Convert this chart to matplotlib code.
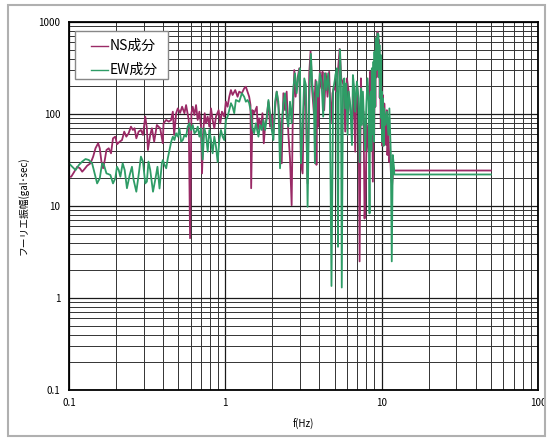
import matplotlib
matplotlib.use("Agg")
import matplotlib.pyplot as plt
from matplotlib.ticker import LogLocator, NullFormatter, FuncFormatter
from matplotlib.patches import Rectangle

plt.rcParams['font.family'] = ['Noto Sans CJK JP', 'DejaVu Sans']

# NS component (frequency Hz, Fourier amplitude gal*sec)
ns_freq = [0.100, 0.1034, 0.1076, 0.113, 0.1175, 0.1216, 0.1258, 0.1308, 0.1374, 0.1429,
           0.1479, 0.1538, 0.1575, 0.1614, 0.1655, 0.1696, 0.1738, 0.1797, 0.1859, 0.1914,
           0.198, 0.203, 0.2111, 0.2185, 0.2258, 0.2329, 0.2409, 0.2493, 0.2567, 0.2629,
           0.2698, 0.2791, 0.2888, 0.2975, 0.3078, 0.3152, 0.3201, 0.3311, 0.3393, 0.351,
           0.3651, 0.3834, 0.3985,
           0.4028, 0.4188, 0.4355, 0.4507, 0.4619, 0.4710, 0.4851, 0.4971, 0.5143, 0.5296,
           0.5480, 0.5615, 0.5839, 0.5954, 0.6072, 0.6192, 0.6345, 0.6502, 0.6663, 0.6829,
           0.6998, 0.7101, 0.7241, 0.7384, 0.7530, 0.7716, 0.7909, 0.8104, 0.8304, 0.8510,
           0.8720, 0.9067, 0.9292, 0.9523, 0.9854, 1.0098, 1.0347, 1.0605, 1.0867, 1.1136,
           1.1580, 1.1984, 1.2278, 1.2768, 1.3213, 1.3540, 1.3875, 1.4218, 1.4499, 1.4641,
           1.4932, 1.5302,
           1.591, 1.614, 1.646, 1.695, 1.729, 1.763, 1.798, 1.842, 1.888, 1.934,
           1.983, 2.032, 2.082, 2.133, 2.186, 2.240, 2.296, 2.353, 2.411, 2.470,
           2.531, 2.594, 2.658, 2.697, 2.764, 2.818, 2.902, 2.974, 3.048, 3.123,
           3.201, 3.280, 3.361, 3.444, 3.512, 3.599, 3.688, 3.780, 3.830, 3.873,
           3.930, 4.027, 4.127, 4.188, 4.292, 4.398, 4.506, 4.618, 4.732, 4.850, 4.970,
           5.11, 5.23, 5.39, 5.52, 5.71, 5.85, 6.00, 6.15, 6.30, 6.46,
           6.62, 6.78, 6.88, 6.95, 7.12, 7.23, 7.37, 7.48, 7.66, 7.78,
           7.89, 8.05, 8.25, 8.35, 8.45, 8.55, 8.66, 8.79, 8.90, 8.96,
           9.05, 9.12, 9.18, 9.28, 9.41, 9.52, 9.64, 9.72, 9.78, 9.88,
           9.95, 10.03, 10.12, 10.20, 10.27, 10.40, 10.53, 10.68, 10.80, 10.89,
           11.05, 11.20, 11.33, 11.50, 11.67, 11.89, 12.0, 50.0]
ns_amp = [20.8, 20.8, 23.2, 26.7, 25.7, 23.6, 25.2, 27.4, 29.1, 34.4,
          42.4, 48.1, 42.4, 30.4, 25.7, 31.6, 40.6, 42.4, 37.4, 54.4,
          56.7, 46.9, 50.0, 52.1, 64.3, 56.7, 61.7, 72.8, 67.0, 70.0,
          54.4, 64.3, 67.0, 59.2, 93.6, 70.0, 40.6, 59.2, 70.0, 50.0,
          75.9, 70.0, 48.1,
          79.2, 86.1, 82.6, 86.1, 106, 59.2, 102, 115, 103, 120,
          102, 125, 86.1, 4.46, 102, 120, 97.5, 125, 86.1, 106,
          72.8, 22.6, 67.0, 102, 79.2, 93.6, 72.8, 115, 86.1, 69.8,
          93.6, 110, 79.2, 106, 93.6, 136, 120, 154, 182, 161,
          182, 154, 175, 168, 190, 198, 175, 154, 125, 15.6,
          110, 102,
          120, 67.0, 89.8, 72.8, 102, 48.0, 72.8, 93.6, 136, 72.8,
          97.5, 61.7, 115, 175, 125, 79.2, 29.1, 168, 110, 175,
          61.7, 33.0, 10.2, 72.8, 300, 154, 244, 314, 29.1, 22.6,
          206, 120, 17.6, 277, 480, 175, 102, 234, 28.0, 168,
          72.8, 288, 190, 288, 110, 277, 154, 288, 79.2, 168, 198,
          175, 265, 509, 244, 206, 64.3, 244, 175, 115, 75.9,
          175, 38.9, 136, 225, 115, 2.5, 244, 115, 106, 7.3,
          14.3, 75.9, 38.9, 200, 288, 45.0, 225, 18.4, 260, 60.0,
          400, 120, 665, 250, 785, 350, 637, 150, 265, 70.0,
          200, 106, 45.0, 160, 50.0, 130, 82.6, 46.0, 110, 35.8,
          64.3, 30.0, 38.9, 20.0, 16.9, 25.7, 24.3, 24.3]

# EW component
ew_freq = [0.100, 0.1050, 0.1103, 0.1158, 0.1216, 0.1277, 0.1341, 0.1407, 0.1479, 0.1515,
           0.1575, 0.1630, 0.1670, 0.1738, 0.1780, 0.1842, 0.1914, 0.1980, 0.2030, 0.2082,
           0.2133, 0.2207, 0.2273, 0.2350, 0.2447, 0.2530, 0.2593, 0.2698, 0.2791, 0.2888,
           0.2975, 0.3078, 0.3152, 0.3227, 0.3311, 0.3449, 0.3564, 0.3684, 0.3797, 0.3929,
           0.399, 0.409, 0.419, 0.429, 0.440, 0.451, 0.462, 0.473, 0.485, 0.497,
           0.509, 0.522, 0.535, 0.548, 0.562, 0.575, 0.590, 0.604, 0.619, 0.635,
           0.650, 0.667, 0.683, 0.700, 0.717, 0.735, 0.753, 0.772, 0.791, 0.810,
           0.830, 0.851, 0.872, 0.894, 0.916, 0.938, 0.962, 0.985, 1.010, 1.035,
           1.060, 1.087, 1.114, 1.141, 1.169, 1.228, 1.277, 1.321, 1.354, 1.388,
           1.422, 1.457, 1.493, 1.530, 1.568,
           1.630, 1.670, 1.712, 1.754, 1.798, 1.842, 1.888, 1.934, 1.983, 2.032,
           2.082, 2.133, 2.186, 2.240, 2.296, 2.353, 2.411, 2.470, 2.531, 2.594,
           2.658, 2.724, 2.792, 2.861, 2.931, 3.004, 3.048, 3.123, 3.201, 3.280,
           3.361, 3.444, 3.529, 3.599, 3.688, 3.743, 3.835, 3.930, 4.027, 4.127,
           4.229, 4.335, 4.442, 4.552, 4.664, 4.778, 4.897, 5.018,
           5.06, 5.18, 5.26, 5.31, 5.42, 5.49, 5.56, 5.66, 5.77, 5.85,
           5.94, 6.06, 6.15, 6.30, 6.46, 6.55, 6.68, 6.78, 6.95, 7.12,
           7.23, 7.37, 7.48, 7.59, 7.74, 7.85, 7.97, 8.12, 8.25, 8.37,
           8.45, 8.53, 8.60, 8.66, 8.75, 8.87, 8.95, 9.00, 9.08, 9.18,
           9.30, 9.41, 9.55, 9.62, 9.69, 9.78, 9.88, 9.95, 10.03, 10.10,
           10.17, 10.30, 10.37, 10.58, 10.79, 11.05, 11.21, 11.44, 11.61, 11.79,
           12.01, 12.05, 50.0]
ew_amp = [29.1, 26.7, 24.6, 27.9, 30.4, 32.4, 31.6, 29.1, 20.8, 17.6,
          20.0, 29.1, 28.4, 22.6, 22.3, 21.7, 17.6, 20.0, 26.7, 24.6,
          20.8, 29.1, 24.6, 15.6, 21.7, 26.7, 19.2, 14.3, 21.7, 34.4,
          30.4, 17.6, 18.4, 30.4, 24.6, 14.3, 19.2, 26.7, 15.5, 29.1,
          31.6, 27.9, 25.7, 33.0, 40.6, 50.0, 56.7, 52.1, 61.7, 56.7,
          69.8, 50.0, 52.1, 59.2, 56.7, 72.8, 79.2, 67.0, 75.9, 61.7,
          64.3, 72.8, 56.7, 69.8, 32.0, 69.8, 59.2, 38.9, 67.0, 52.1,
          37.4, 56.7, 44.2, 30.0, 52.1, 67.0, 56.7, 52.1, 86.1, 93.6,
          110, 131, 120, 102, 142, 136, 168, 154, 136, 142,
          131, 106, 69.8, 61.7, 79.2,
          56.7, 75.9, 67.0, 86.1, 67.0, 89.8, 142, 102, 67.0, 52.1,
          136, 175, 136, 25.7, 79.2, 131, 168, 93.6, 72.8, 136,
          79.2, 190, 277, 168, 254, 314, 29.1, 72.8, 244, 206,
          9.8, 142, 450, 215, 131, 29.1, 225, 154, 277, 225,
          93.6, 277, 182, 277, 154, 1.35, 182, 234,
          265, 314, 3.6, 136, 500, 244, 1.3, 190, 244, 115,
          215, 59.2, 175, 125, 46.0, 265, 190, 106, 225, 148,
          30.0, 190, 75.9, 175, 75.9, 40.0, 115, 244, 136, 8.3,
          150, 175, 40.0, 314, 60.0, 370, 50.0, 476, 120, 665,
          300, 754, 723, 250, 562, 150, 438, 90.0, 175, 50.0,
          148, 45.0, 115, 75.9, 106, 59.2, 115, 38.9, 2.5, 35.8,
          25.7, 22.0, 22.0]

ns_color = '#9a2a66'
ew_color = '#2e9c66'

fig = plt.figure(figsize=(5.47, 4.38), dpi=100)
ax = fig.add_axes([0.126, 0.1096, 0.8575, 0.8402])

ax.plot(ns_freq, ns_amp, color=ns_color, lw=1.3)
ax.plot(ew_freq, ew_amp, color=ew_color, lw=1.3)

ax.set_xscale('log')
ax.set_yscale('log')
ax.set_xlim(0.1, 100)
ax.set_ylim(0.1, 1000)

ax.xaxis.set_minor_locator(LogLocator(base=10, subs=range(2, 10), numticks=20))
ax.yaxis.set_minor_locator(LogLocator(base=10, subs=range(2, 10), numticks=20))
ax.xaxis.set_minor_formatter(NullFormatter())
ax.yaxis.set_minor_formatter(NullFormatter())
ax.xaxis.set_major_formatter(FuncFormatter(lambda v, p: '%g' % v))
ax.yaxis.set_major_formatter(FuncFormatter(lambda v, p: '%g' % v))

ax.grid(which='major', color='#1a1a1a', lw=0.9)
ax.grid(which='minor', color='#333333', lw=0.7)
ax.set_axisbelow(True)
ax.tick_params(which='both', length=0, labelsize=7, pad=6)
for s in ax.spines.values():
    s.set_linewidth(1.3)
    s.set_color('black')

ax.set_xlabel('f(Hz)', fontsize=7, labelpad=8)
ax.set_ylabel('フーリエ振幅(gal･sec)', fontsize=7, labelpad=7)

# legend box drawn by hand to match the original's padding
ax.add_patch(Rectangle((0.0134, 0.8459), 0.197, 0.1288, transform=ax.transAxes,
                       facecolor='white', edgecolor='#888888', lw=1.0, zorder=5))
ax.plot([0.0469, 0.0825], [0.9348, 0.9348], transform=ax.transAxes, color=ns_color,
        lw=1.0, zorder=6, clip_on=False)
ax.plot([0.0469, 0.0825], [0.8688, 0.8688], transform=ax.transAxes, color=ew_color,
        lw=1.0, zorder=6, clip_on=False)
ax.text(0.0859, 0.9348, 'NS成分', transform=ax.transAxes, fontsize=10, va='center', zorder=6)
ax.text(0.0859, 0.8688, 'EW成分', transform=ax.transAxes, fontsize=10, va='center', zorder=6)

fig.patches.append(Rectangle((0.0146, 0.0046), 0.9817, 0.984, transform=fig.transFigure,
                             fill=False, edgecolor='#b0b0b0', lw=1.5))

plt.savefig('out.png', dpi=100)
